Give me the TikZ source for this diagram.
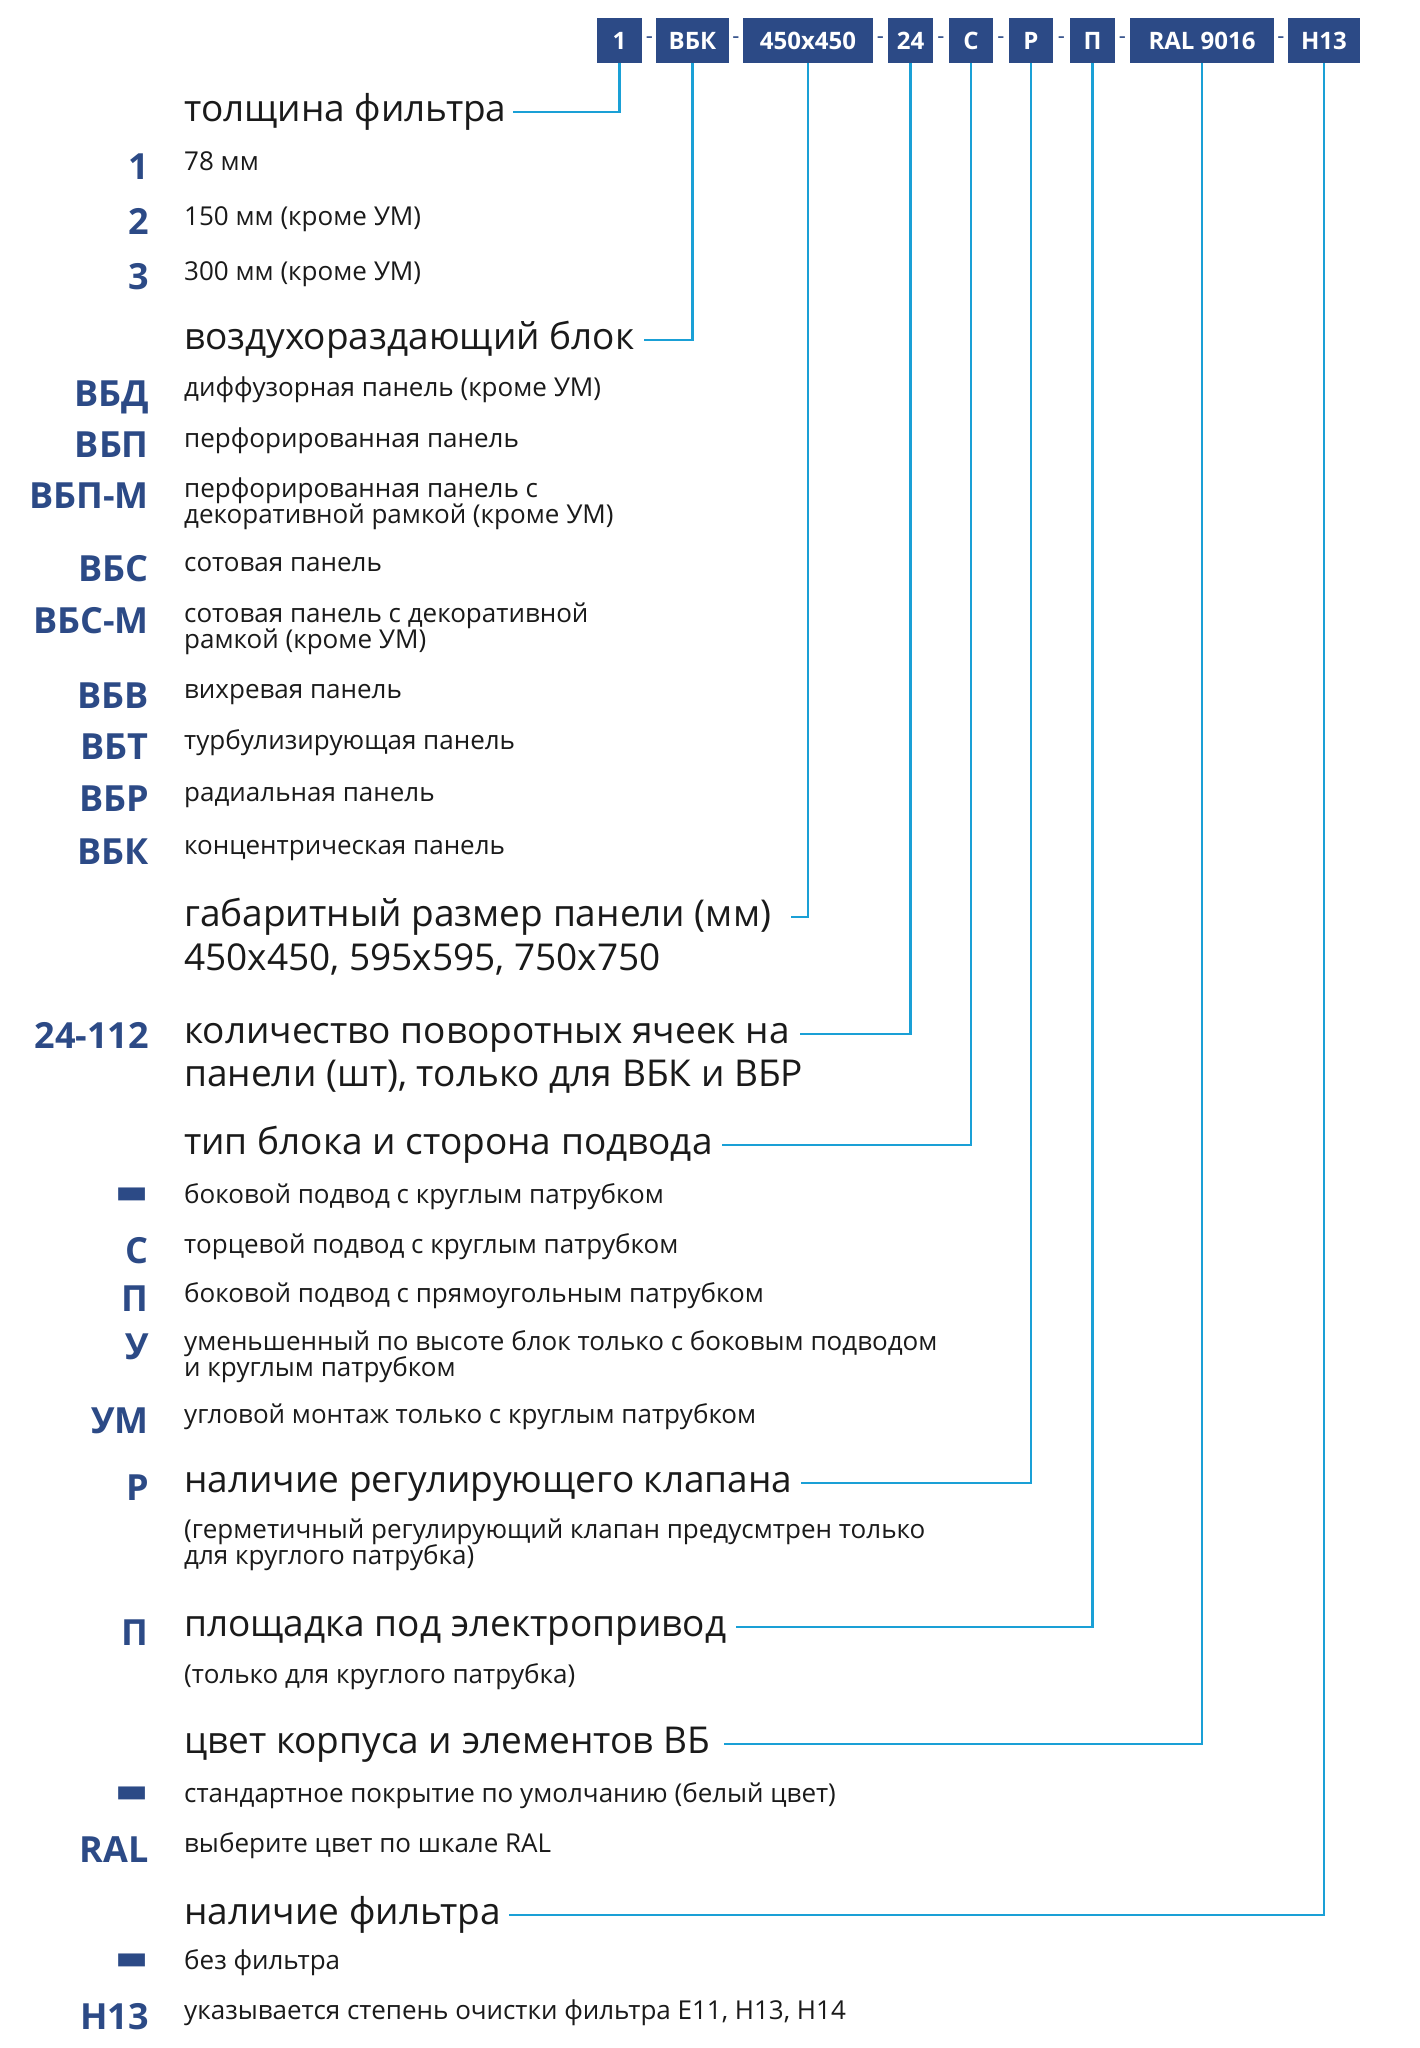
\documentclass[tikz,border=0pt]{standalone}
\usepackage{fontspec}
\setmainfont{Open Sans}
\newfontfamily\symfont{DejaVu Sans}
\definecolor{navy}{HTML}{2C4A86}
\definecolor{cyanline}{HTML}{1AA0D6}
\definecolor{txt}{HTML}{1A1A1A}
\begin{document}
\begin{tikzpicture}[x=1pt,y=-1pt,
  box/.style={fill=navy, text=white, minimum height=45pt, inner sep=0pt,
    font=\fontsize{24}{24}\selectfont\bfseries},
  sepdash/.style={inner sep=0pt, text=navy, font=\fontsize{22}{22}\selectfont},
  hd/.style={anchor=west, inner sep=0pt, text height=27.5pt, text depth=9pt,
    font=\fontsize{37}{44}\selectfont, text=txt},
  bd/.style={anchor=west, inner sep=0pt, text height=19.5pt, text depth=6.5pt,
    font=\fontsize{26}{30}\selectfont, text=txt},
  cd/.style={anchor=east, inner sep=0pt, text height=26pt, text depth=0pt,
    font=\fontsize{36}{36}\selectfont\bfseries, text=navy},
  dashcode/.style={anchor=east, inner sep=0pt, text=navy,
    font=\symfont\fontsize{35}{35}\selectfont},
  conn/.style={draw=cyanline, line width=2.6pt}
]
\useasboundingbox (0,0) rectangle (1419,2048);
\fill[white] (0,0) rectangle (1419,2048);

% code boxes
\node[box, minimum width=45pt]  (b1)  at (619.5,40.5) {1};
\node[box, minimum width=73pt]  (b2)  at (692.5,40.5) {ВБК};
\node[box, minimum width=130pt] (b3)  at (808,40.5)   {450x450};
\node[box, minimum width=45pt]  (b4)  at (910.5,40.5) {24};
\node[box, minimum width=44pt]  (b5)  at (971,40.5)   {С};
\node[box, minimum width=44pt]  (b6)  at (1031,40.5)  {Р};
\node[box, minimum width=45pt]  (b7)  at (1092.5,40.5){П};
\node[box, minimum width=144pt] (b8)  at (1202,40.5)  {RAL 9016};
\node[box, minimum width=72pt]  (b9)  at (1324,40.5)  {H13};
\node[sepdash] (s1) at (649.5,40) {-};
\node[sepdash] (s2) at (736,40)   {-};
\node[sepdash] (s3) at (880.5,40) {-};
\node[sepdash] (s4) at (941,40)   {-};
\node[sepdash] (s5) at (1001,40)  {-};
\node[sepdash] (s6) at (1061.5,40){-};
\node[sepdash] (s7) at (1122.5,40){-};
\node[sepdash] (s8) at (1281,40)  {-};

% section 1
\node[hd] (h1) at (184,112) {толщина фильтра};
\node[cd] (c11) at (149,166) {1};  \node[bd] (t11) at (184,164) {78 мм};
\node[cd] (c12) at (149,221) {2};  \node[bd] (t12) at (184,219) {150 мм (кроме УМ)};
\node[cd] (c13) at (149,276) {3};  \node[bd] (t13) at (184,274) {300 мм (кроме УМ)};

% section 2
\node[hd] (h2) at (184,340) {воздухораздающий блок};
\node[cd] (c21) at (149,393) {ВБД};   \node[bd] (t21) at (184,390) {диффузорная панель (кроме УМ)};
\node[cd] (c22) at (149,444) {ВБП};   \node[bd] (t22) at (184,441) {перфорированная панель};
\node[cd] (c23) at (149,495) {ВБП-М}; \node[bd] (t23) at (184,491) {перфорированная панель с};
                                       \node[bd] (t23b) at (184,517) {декоративной рамкой (кроме УМ)};
\node[cd] (c24) at (149,568) {ВБС};   \node[bd] (t24) at (184,565) {сотовая панель};
\node[cd] (c25) at (149,620) {ВБС-М}; \node[bd] (t25) at (184,616) {сотовая панель с декоративной};
                                       \node[bd] (t25b) at (184,642) {рамкой (кроме УМ)};
\node[cd] (c26) at (149,695) {ВБВ};   \node[bd] (t26) at (184,692) {вихревая панель};
\node[cd] (c27) at (149,746) {ВБТ};   \node[bd] (t27) at (184,743) {турбулизирующая панель};
\node[cd] (c28) at (149,798) {ВБР};   \node[bd] (t28) at (184,795) {радиальная панель};
\node[cd] (c29) at (149,851) {ВБК};   \node[bd] (t29) at (184,848) {концентрическая панель};

% section 3
\node[hd] (h3) at (184,917) {габаритный размер панели (мм)};
\node[hd] (h3b) at (184,961) {450x450, 595x595, 750x750};

% section 4
\node[cd] (c4) at (149,1035) {24-112};
\node[hd] (h4) at (184,1034) {количество поворотных ячеек на};
\node[hd] (h4b) at (184,1077) {панели (шт), только для ВБК и ВБР};

% section 5
\node[hd] (h5) at (184,1145) {тип блока и сторона подвода};
\node[dashcode] (c51) at (149,1196) {▬}; \node[bd] (t51) at (184,1197) {боковой подвод с круглым патрубком};
\node[cd] (c52) at (149,1250) {С};  \node[bd] (t52) at (184,1247) {торцевой подвод с круглым патрубком};
\node[cd] (c53) at (149,1298) {П};  \node[bd] (t53) at (184,1296) {боковой подвод с прямоугольным патрубком};
\node[cd] (c54) at (149,1346) {У};  \node[bd] (t54) at (184,1344) {уменьшенный по высоте блок только с боковым подводом};
                                     \node[bd] (t54b) at (184,1370) {и круглым патрубком};
\node[cd] (c55) at (149,1420) {УМ}; \node[bd] (t55) at (184,1417) {угловой монтаж только с круглым патрубком};

% section 6
\node[cd] (c6) at (149,1487) {Р};
\node[hd] (h6) at (184,1483) {наличие регулирующего клапана};
\node[bd] (t61) at (184,1532) {(герметичный регулирующий клапан предусмтрен только};
\node[bd] (t61b) at (184,1558) {для круглого патрубка)};

% section 7
\node[cd] (c7) at (149,1632) {П};
\node[hd] (h7) at (184,1627) {площадка под электропривод};
\node[bd] (t71) at (184,1677) {(только для круглого патрубка)};

% section 8
\node[hd] (h8) at (184,1744) {цвет корпуса и элементов ВБ};
\node[dashcode] (c81) at (149,1795) {▬}; \node[bd] (t81) at (184,1796) {стандартное покрытие по умолчанию (белый цвет)};
\node[cd] (c82) at (149,1849) {RAL}; \node[bd] (t82) at (184,1846) {выберите цвет по шкале RAL};

% section 9
\node[hd] (h9) at (184,1915) {наличие фильтра};
\node[dashcode] (c91) at (149,1962) {▬}; \node[bd] (t91) at (184,1963) {без фильтра};
\node[cd] (c92) at (149,2016) {H13}; \node[bd] (t92) at (184,2013) {указывается степень очистки фильтра E11, H13, H14};

% connectors
\draw[conn] (b1.south) |- ([xshift=6pt]h1.east);
\draw[conn] (b2.south) |- ([xshift=10pt]h2.east);
\draw[conn] (b3.south) |- ([xshift=20pt]h3.east);
\draw[conn] (b4.south) |- ([xshift=10pt]h4.east);
\draw[conn] (b5.south) |- ([xshift=9pt]h5.east);
\draw[conn] (b6.south) |- ([xshift=8pt]h6.east);
\draw[conn] (b7.south) |- ([xshift=9pt]h7.east);
\draw[conn] (b8.south) |- ([xshift=14pt]h8.east);
\draw[conn] (b9.south) |- ([xshift=8pt]h9.east);
\end{tikzpicture}
\end{document}
